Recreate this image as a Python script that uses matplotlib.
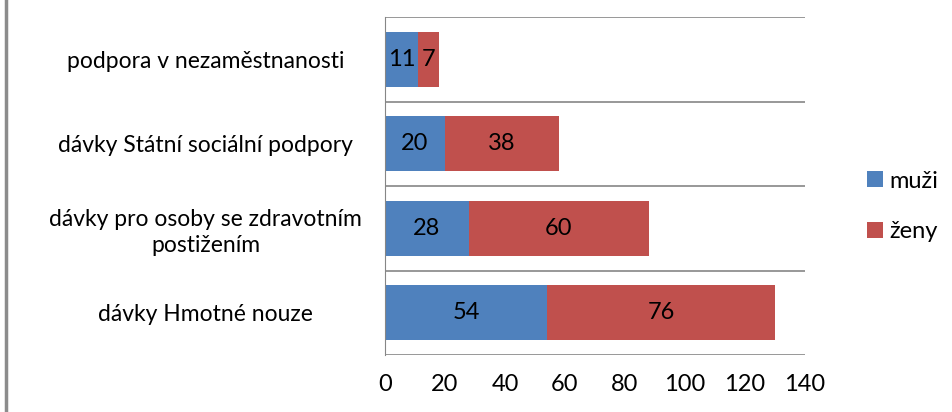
import matplotlib.pyplot as plt
from matplotlib.lines import Line2D

categories = ['dávky Hmotné nouze',
              'dávky pro osoby se zdravotním\npostižením',
              'dávky Státní sociální podpory',
              'podpora v nezaměstnanosti']
muzi = [54, 28, 20, 11]
zeny = [76, 60, 38, 7]
x_ticks = [0, 20, 40, 60, 80, 100, 120, 140]

plt.rcParams['font.family'] = ['Lato', 'DejaVu Sans']

fig = plt.figure(figsize=(9.53, 4.12), dpi=100)
ax = fig.add_axes([385 / 953, 1 - 355 / 412, 420 / 953, 338 / 412])

blue = '#4f81bd'
red = '#c0504d'
pos = list(range(len(categories)))
b1 = ax.barh(pos, muzi, height=0.65, color=blue, label='muži')
b2 = ax.barh(pos, zeny, left=muzi, height=0.65, color=red, label='ženy')
ax.bar_label(b1, label_type='center', fontsize=17)
ax.bar_label(b2, label_type='center', fontsize=17)

ax.set_xlim(0, 140)
ax.set_ylim(-0.5, len(categories) - 0.5)
ax.set_xticks(x_ticks)
ax.set_yticks(pos)
ax.set_yticklabels(categories, fontsize=16.5, ha='center', multialignment='center',
                   linespacing=1.3)
ax.tick_params(axis='y', length=0, pad=129)
ax.tick_params(axis='x', length=0, pad=14, labelsize=17)

for s in ['right', 'bottom', 'top']:
    ax.spines[s].set_visible(False)
ax.spines['left'].set_color('#868686')
for yb in [-0.5, 0.5, 1.5, 2.5, 3.5]:
    ax.axhline(yb, color='#868686', lw=1.2, zorder=0)

ax.legend(loc='center left', bbox_to_anchor=(1.098, 0.44), frameon=False,
          fontsize=17, handlelength=0.65, handleheight=0.65, handletextpad=0.3,
          labelspacing=1.25)

fig.add_artist(Line2D([6 / 953, 6 / 953], [0, 1], color='#8c8c8c', lw=2.5))

fig.savefig('out.png', dpi=100)
